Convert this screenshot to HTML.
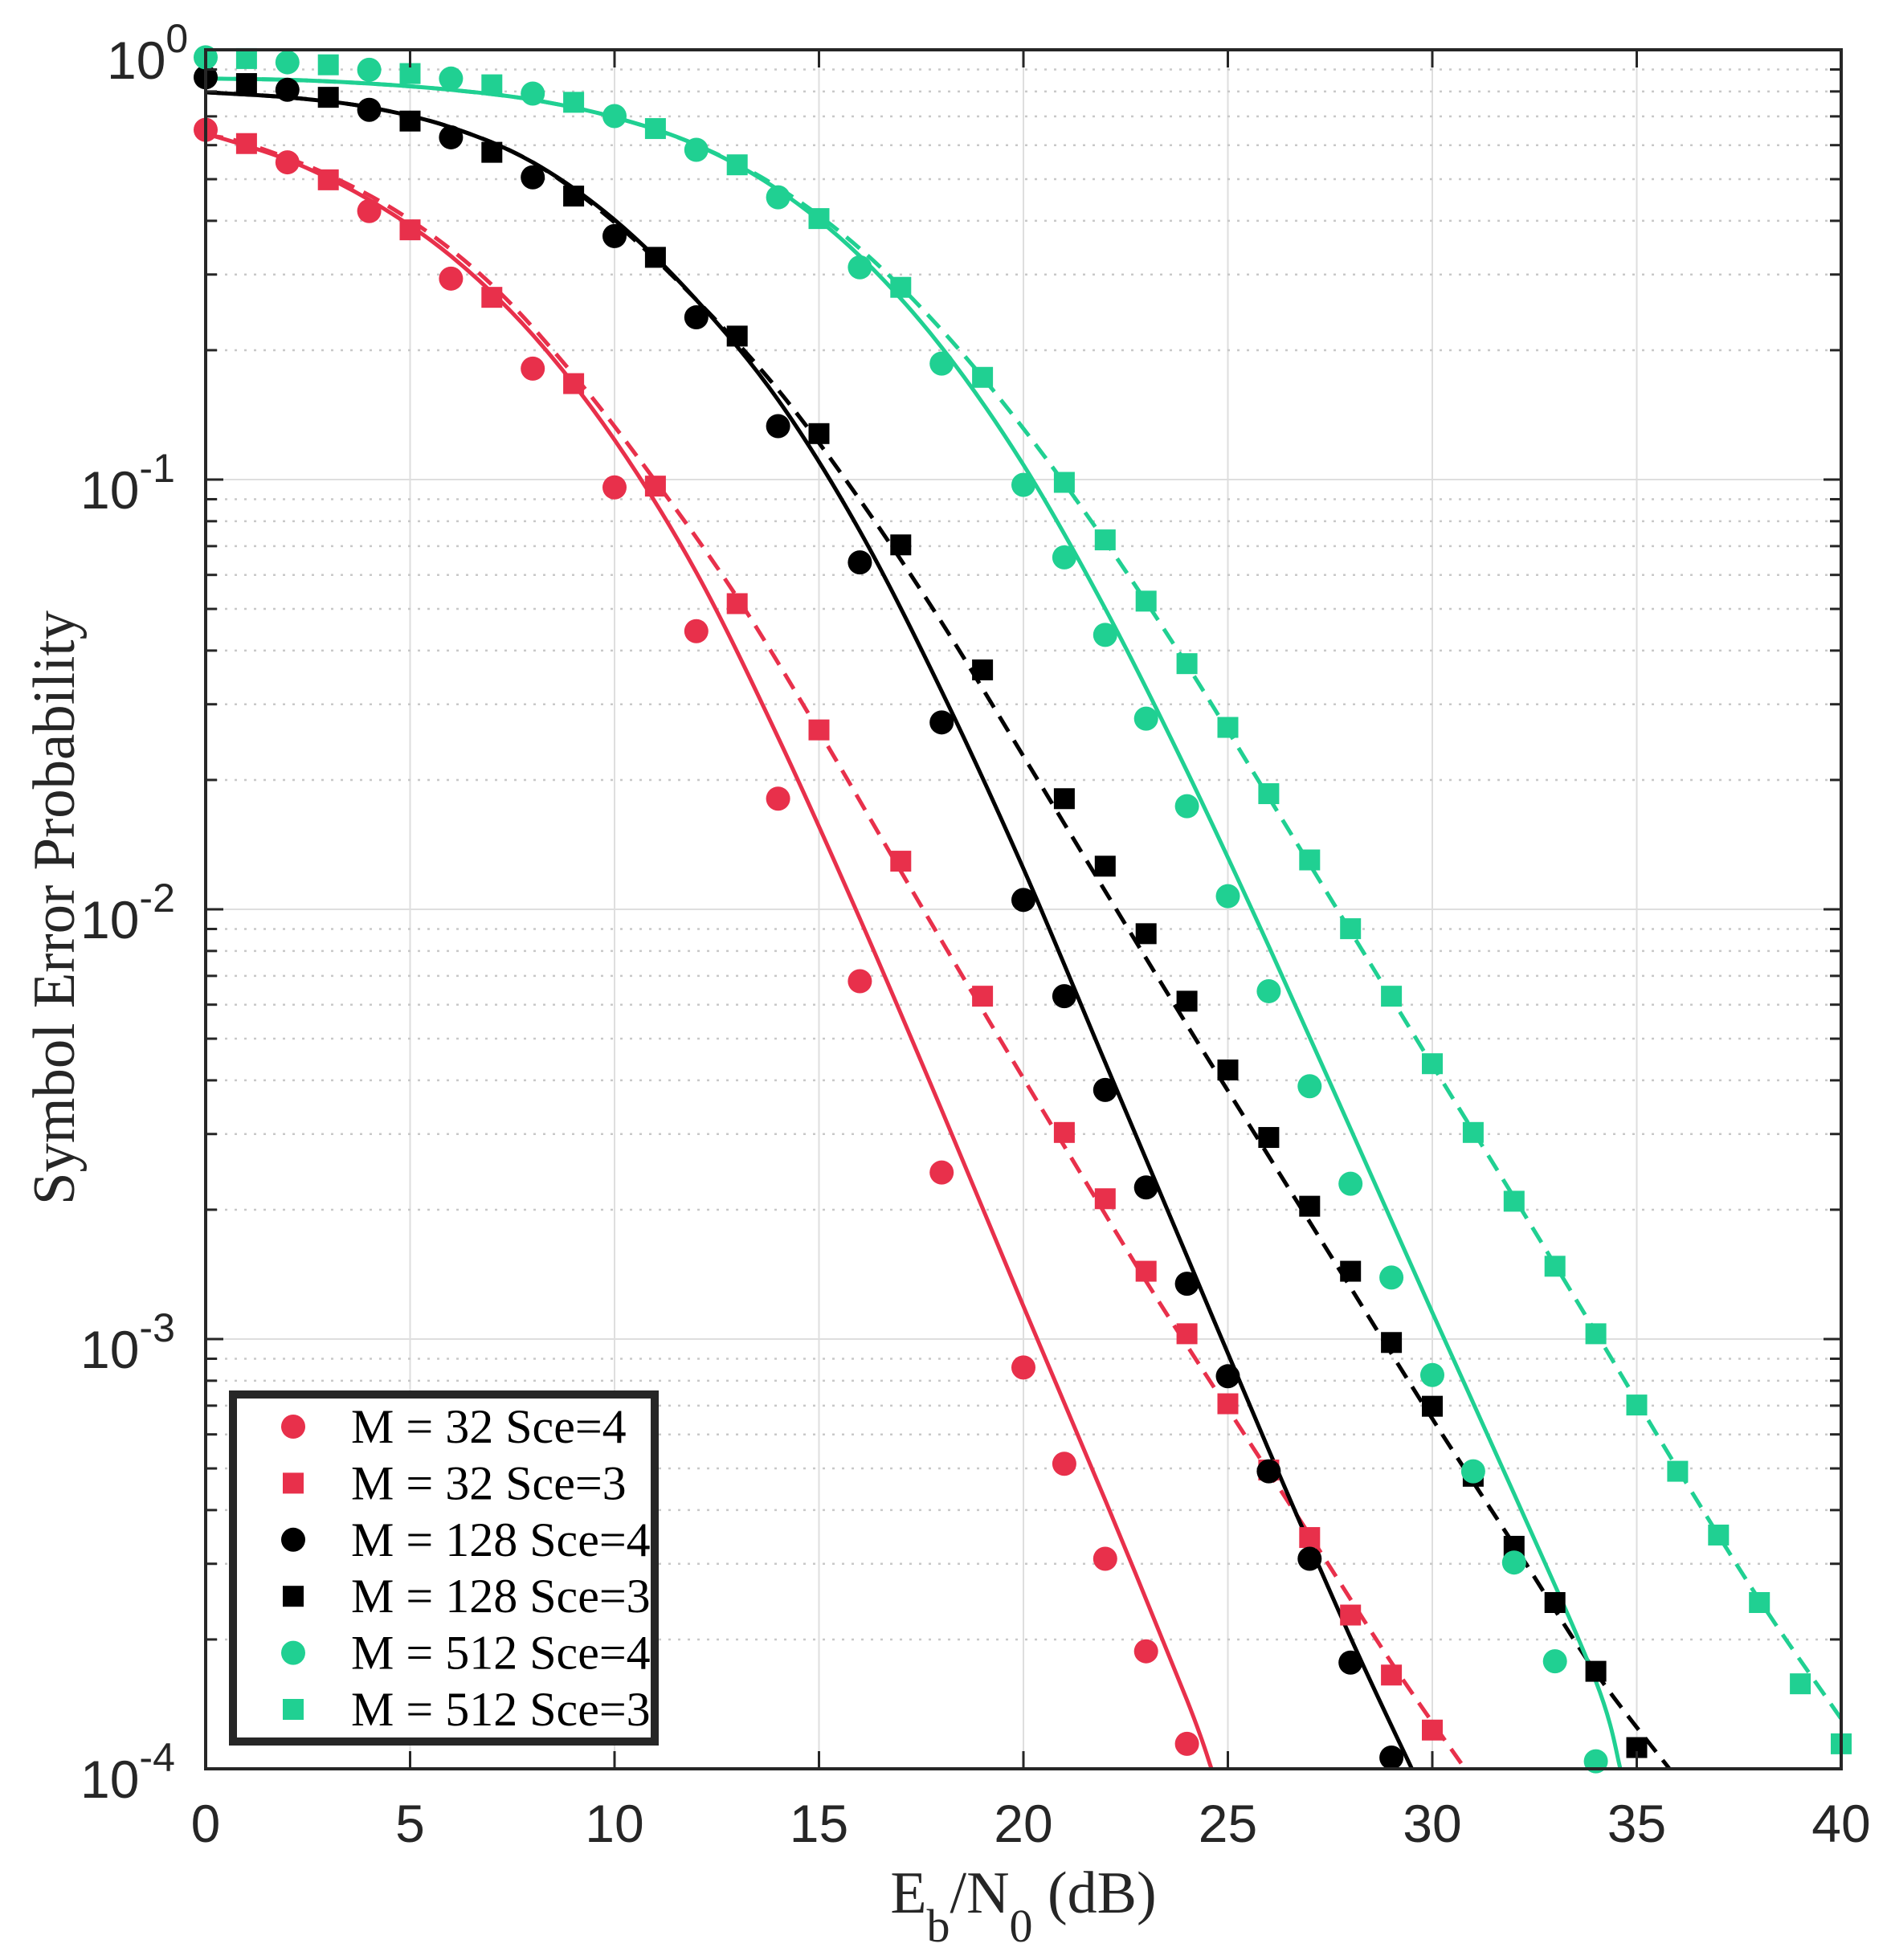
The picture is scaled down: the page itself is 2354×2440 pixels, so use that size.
<!DOCTYPE html>
<html><head><meta charset="utf-8"><style>
html,body{margin:0;padding:0;background:#fff;}
svg{display:block;}
</style></head><body>
<svg id="s" xmlns="http://www.w3.org/2000/svg" width="2354" height="2440" viewBox="0 0 2354 2440">
<rect x="0" y="0" width="2354" height="2440" fill="#fff"/>
<g id="grid"></g>
<g id="lines"></g>
<g id="marks"></g>
<g id="axes"></g>
<g id="legend"></g>
</svg>
<script>
var NS="http://www.w3.org/2000/svg";
var L=256,R=2292,T=62,B=2202;
function X(d){return L+d*(R-L)/40;}
function Yd(yd){return T+(yd-40)*(B-T)/1375;}
function el(p,tag,a,txt){var e=document.createElementNS(NS,tag);for(var k in a)e.setAttribute(k,a[k]);if(txt!==undefined)e.textContent=txt;document.getElementById(p).appendChild(e);return e;}
// grid
for(var d=5;d<40;d+=5){el('grid','line',{x1:X(d),x2:X(d),y1:T,y2:B,stroke:'#dedede','stroke-width':2});}
for(var dec=0;dec<4;dec++){
  for(var m=2;m<=9;m++){var y=T+(dec+1-Math.log10(m))*(B-T)/4;
    el('grid','line',{x1:L,x2:R,y1:y,y2:y,stroke:'#c8c8c8','stroke-width':2.5,'stroke-dasharray':'3,9'});
    el('axes','line',{x1:L,x2:L+14,y1:y,y2:y,stroke:'#262626','stroke-width':3});
    el('axes','line',{x1:R,x2:R-14,y1:y,y2:y,stroke:'#262626','stroke-width':3});}
  if(dec>0){var y2=T+dec*(B-T)/4;el('grid','line',{x1:L,x2:R,y1:y2,y2:y2,stroke:'#dedede','stroke-width':2});}
}
for(var dec=0;dec<=4;dec++){var y=T+dec*(B-T)/4;
  el('axes','line',{x1:L,x2:L+22,y1:y,y2:y,stroke:'#262626','stroke-width':3});
  el('axes','line',{x1:R,x2:R-22,y1:y,y2:y,stroke:'#262626','stroke-width':3});
  var t=el('axes','text',{x:(dec==0?133:100),y:y+36,'font-family':'Liberation Sans, sans-serif','font-size':66,fill:'#262626'});
  var a=document.createElementNS(NS,'tspan');a.textContent='10';t.appendChild(a);
  var b=document.createElementNS(NS,'tspan');b.setAttribute('dy','-33');b.setAttribute('font-size','50');b.textContent=(dec==0?'0':'-'+dec);t.appendChild(b);
}
for(var d=0;d<=40;d+=5){
  el('axes','line',{x1:X(d),x2:X(d),y1:B,y2:B-22,stroke:'#262626','stroke-width':3});
  el('axes','line',{x1:X(d),x2:X(d),y1:T,y2:T+22,stroke:'#262626','stroke-width':3});
  el('axes','text',{x:X(d),y:2293,'text-anchor':'middle','font-family':'Liberation Sans, sans-serif','font-size':66,fill:'#262626'},String(d));
}
el('axes','rect',{x:L,y:T,width:R-L,height:B-T,fill:'none',stroke:'#262626','stroke-width':4});
// labels
var xl=el('axes','text',{x:1274,y:2381,'text-anchor':'middle','font-family':'Liberation Serif, serif','font-size':74,fill:'#262626'});
xl.innerHTML='E<tspan dy="36" font-size="58">b</tspan><tspan dy="-36">/N</tspan><tspan dy="36" font-size="58">0</tspan><tspan dy="-36"> (dB)</tspan>';
el('axes','text',{x:0,y:0,transform:'translate(92,1130) rotate(-90)','text-anchor':'middle','font-family':'Liberation Serif, serif','font-size':74,fill:'#262626',textLength:740,lengthAdjust:'spacingAndGlyphs'},'Symbol Error Probability');

var RED='#e8304b',GRN='#20d092',BLK='#000';
function px(x){return (x-165)/32.7;}
// data in displayed coords (pixel x -> dB given directly)
var redC=[[0,104],[2,130],[4,169],[6,223],[8,295],[10,390],[12,505],[14,639],[16,785],[18,938],[20,1094],[21,1171],[22,1247],[23,1321],[24,1395]];
var redS=[[1,115],[3,144],[5,184],[7,238],[9,307],[11,389],[13,483],[15,584],[17,689],[19,797],[21,906],[22,959],[23,1017],[24,1067],[25,1123],[26,1176],[27,1230],[28,1292],[29,1340],[30,1384]];
var blkC=[[0,62],[2,72],[4,88],[6,110],[8,142],[10,189],[12,254],[14,341],[16,450],[18,578],[20,720],[21,797],[22,872],[23,950],[24,1027],[25,1101],[26,1177],[27,1247],[28,1330],[29,1406]];
var blkS=[[1,67],[3,78],[5,97],[7,122],[9,157],[11,206],[13,269],[15,347],[17,436],[19,536],[21,639],[22,693],[23,747],[24,801],[25,856],[26,910],[27,965],[28,1017],[29,1074],[30,1125],[31,1181],[32,1237],[33,1282],[34,1337],[35,1398]];
var grnC=[[0,46],[2,50],[4,56],[6,63],[8,75],[10,93],[12,120],[14,158],[16,214],[18,291],[20,388],[21,446],[22,508],[23,575],[24,645],[25,717],[26,793],[27,869],[28,947],[29,1022],[30,1100],[31,1177],[32,1250],[33,1329],[34,1409]];
var grnS=[[1,47],[3,52],[5,59],[7,68],[9,82],[11,103],[13,132],[15,175],[17,230],[19,302],[21,386],[22,432],[23,481],[24,531],[25,582],[26,635],[27,688],[28,743],[29,797],[30,851],[31,906],[32,961],[33,1013],[34,1067],[35,1124],[36,1177],[37,1228],[38,1282],[39,1347],[40,1395]];
// curves
var redSol=[[0,107],[2,128],[4,160],[6,205],[8,268],[10,352],[12,458],[14,590],[16,735],[18,888],[20,1045],[22,1200],[24,1360],[24.6,1415]];
var redDash=[[0,108],[1,115],[3,140],[5,176],[7,228],[9,300],[11,385],[13,478],[15,585],[17,697],[19,808],[21,917],[23,1025],[25,1127],[27,1228],[29,1330],[30.8,1415]];
var blkSol=[[0,74],[2,78],[4,86],[6,102],[8,130],[10,176],[12,240],[14,320],[16,425],[18,553],[20,695],[22,850],[24,1005],[26,1160],[28,1310],[29.5,1415]];
var blkDash=[[0,74],[2,78],[4,86],[6,102],[8,130],[10,178],[12,240],[14,312],[16,400],[18,498],[20,605],[22,713],[24,820],[26,925],[28,1030],[30,1135],[32,1236],[34,1338],[35.8,1415]];
var grnSol=[[0,63],[2,64],[4,67],[6,72],[8,80],[10,94],[12,116],[14,152],[16,205],[18,278],[20,372],[22,487],[24,617],[26,757],[28,903],[30,1050],[32,1195],[34,1345],[34.6,1415]];
var grnDash=[[0,63],[2,64],[4,67],[6,72],[8,80],[10,94],[12,116],[14,150],[16,199],[18,264],[20,343],[22,433],[24,532],[26,638],[28,745],[30,852],[32,958],[34,1066],[36,1175],[38,1280],[40,1375]];
function path(pts){var P=pts.map(function(p){return [X(p[0]),Yd(p[1])];});var d='M'+P[0][0]+','+P[0][1];
  for(var i=0;i<P.length-1;i++){var p0=P[Math.max(0,i-1)],p1=P[i],p2=P[i+1],p3=P[Math.min(P.length-1,i+2)];
    d+=' C'+(p1[0]+(p2[0]-p0[0])/6)+','+(p1[1]+(p2[1]-p0[1])/6)+' '+(p2[0]-(p3[0]-p1[0])/6)+','+(p2[1]-(p3[1]-p1[1])/6)+' '+p2[0]+','+p2[1];}
  return d;}
function line(pts,c,dash){var a={d:path(pts),fill:'none',stroke:c,'stroke-width':5,'clip-path':'url(#cp)'};if(dash)a['stroke-dasharray']='22,13';el('lines','path',a);}
var defs=document.createElementNS(NS,'defs');defs.innerHTML='<clipPath id="cp"><rect x="256" y="62" width="2036" height="2140"/></clipPath>';document.getElementById('s').insertBefore(defs,document.getElementById('s').firstChild);
line(redSol,RED);line(redDash,RED,1);line(blkSol,BLK);line(blkDash,BLK,1);line(grnSol,GRN);line(grnDash,GRN,1);
function circ(g,x,y,c){el(g,'circle',{cx:x,cy:y,r:15,fill:c});}
function sq(g,x,y,c){el(g,'rect',{x:x-13,y:y-13,width:26,height:26,fill:c});}
redC.forEach(function(p){circ('marks',X(p[0]),Yd(p[1]),RED);});
redS.forEach(function(p){sq('marks',X(p[0]),Yd(p[1]),RED);});
blkC.forEach(function(p){circ('marks',X(p[0]),Yd(p[1]),BLK);});
blkS.forEach(function(p){sq('marks',X(p[0]),Yd(p[1]),BLK);});
grnC.forEach(function(p){circ('marks',X(p[0]),Yd(p[1]),GRN);});
grnS.forEach(function(p){sq('marks',X(p[0]),Yd(p[1]),GRN);});
// legend
el('legend','rect',{x:290,y:1736,width:525,height:432,fill:'#fff',stroke:'#262626','stroke-width':10});
var ent=[['M = 32 Sce=4',RED,0],['M = 32 Sce=3',RED,1],['M = 128 Sce=4',BLK,0],['M = 128 Sce=3',BLK,1],['M = 512 Sce=4',GRN,0],['M = 512 Sce=3',GRN,1]];
ent.forEach(function(e,i){var y=1776+i*70.4;if(e[2])sq('legend',365,y,e[1]);else circ('legend',365,y,e[1]);
  el('legend','text',{x:437,y:y+20,'font-family':'Liberation Serif, serif','font-size':60,fill:'#000'},e[0]);});
</script>
</body></html>
